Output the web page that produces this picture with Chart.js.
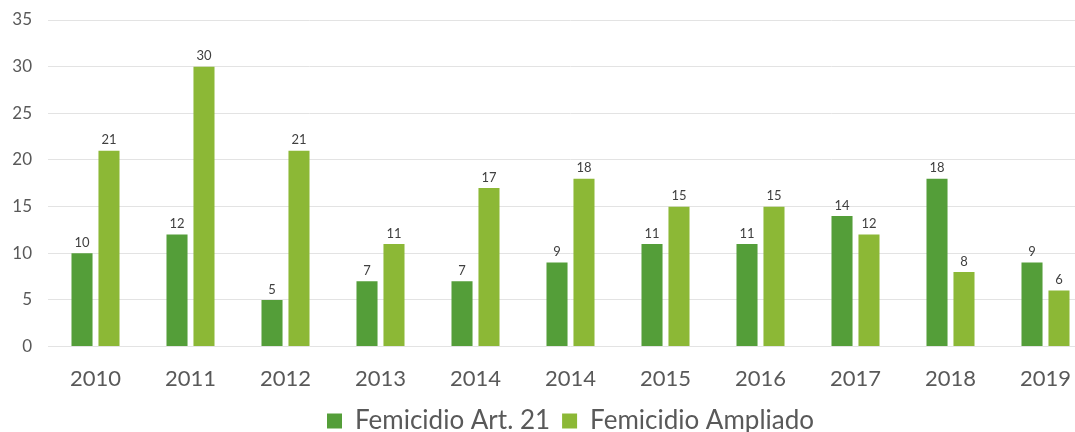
<!DOCTYPE html>
<html>
<head>
<meta charset="utf-8">
<script src="https://cdn.jsdelivr.net/npm/chart.js@4/dist/chart.umd.min.js"></script>
<style>
html,body{margin:0;padding:0;background:#fff;overflow:hidden;width:1075px;height:432px;}
#wrap{position:relative;width:1093px;height:432px;}
</style>
</head>
<body>
<div id="wrap"><canvas id="c" width="1093" height="432"></canvas></div>
<script>
const categories = ["2010","2011","2012","2013","2014","2014","2015","2016","2017","2018","2019"];
const art21 = [10,12,5,7,7,9,11,11,14,18,9];
const ampliado = [21,30,21,11,17,18,15,15,12,8,6];
const yTicks = [0,5,10,15,20,25,30,35];
const seriesNames = ["Femicidio Art. 21","Femicidio Ampliado"];

const labelPlugin = {
  id:'barLabels',
  afterDatasetsDraw(chart){
    const ctx = chart.ctx;
    ctx.save();
    ctx.font = '13px Lato';
    ctx.fillStyle = '#404040';
    ctx.textAlign = 'center';
    ctx.textBaseline = 'bottom';
    chart.data.datasets.forEach((ds,i)=>{
      chart.getDatasetMeta(i).data.forEach((bar,j)=>{
        ctx.fillText(String(ds.data[j]), bar.x, bar.y - 4);
      });
    });
    ctx.restore();
  }
};

new Chart(document.getElementById('c'), {
  type:'bar',
  data:{
    labels: categories,
    datasets:[
      {label: seriesNames[0], data: art21, backgroundColor:'#549E39', borderWidth:0},
      {label: seriesNames[1], data: ampliado, backgroundColor:'#8CB836', borderWidth:0}
    ]
  },
  options:{
    responsive:false,
    animation:false,
    categoryPercentage:0.568,
    barPercentage:0.78,
    layout:{padding:{top:20,left:0,right:0,bottom:-12}},
    plugins:{
      legend:{
        position:'bottom',
        fullSize:false,
        labels:{
          font:{family:'Lato',size:26},
          color:'#595959',
          boxWidth:15,
          boxHeight:15,
          padding:12,
          useBorderRadius:false
        }
      },
      tooltip:{enabled:false}
    },
    scales:{
      x:{
        grid:{display:false},
        border:{display:false},
        afterFit(axis){ axis.height -= 7; },
        ticks:{font:{family:'Lato',size:22},color:'#595959',padding:11}
      },
      y:{
        min:0,max:35,
        afterBuildTicks(axis){ axis.ticks = yTicks.map(v=>({value:v})); },
        afterFit(axis){ axis.width = 48; axis.paddingTop = 0; axis.paddingBottom = 0; },
        grid:{color:'#E3E3E3',lineWidth:1,drawTicks:false},
        border:{display:false},
        ticks:{font:{family:'Lato',size:17},color:'#595959',padding:16}
      }
    }
  },
  plugins:[labelPlugin]
});
</script>
</body>
</html>
